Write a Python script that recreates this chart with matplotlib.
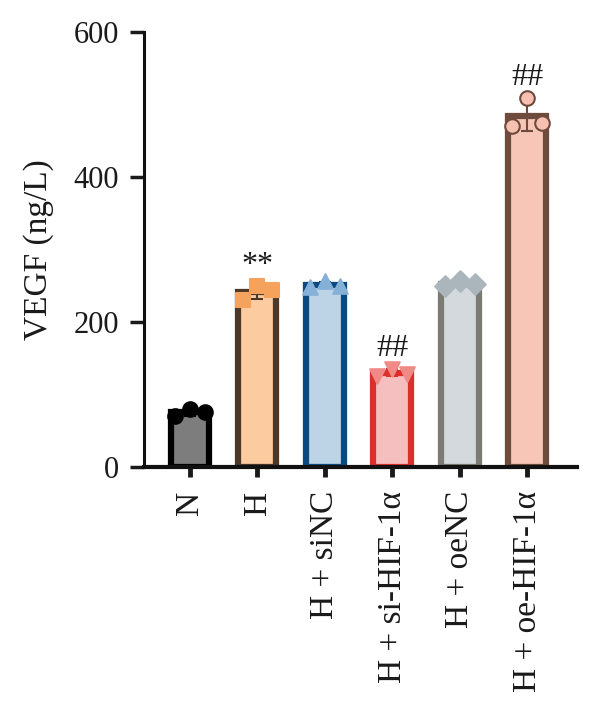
import matplotlib
matplotlib.use("Agg")
import matplotlib.pyplot as plt
import numpy as np

categories = ["N", "H", "H + siNC", "H + si-HIF-1\u03b1", "H + oeNC", "H + oe-HIF-1\u03b1"]
points = [
    [70, 80, 76],
    [230, 250, 244],
    [248, 256, 250],
    [126, 135, 128],
    [250, 256, 252],
    [470, 509, 474],
]
point_offsets = [-0.22, 0.0, 0.22]
significance = ["", "**", "", "##", "", "##"]
yticks = [0, 200, 400, 600]

face_colors = ["#7d7d7d", "#fdcba0", "#bdd4e7", "#f6bfbf", "#d4d9dd", "#f8c6b6"]
edge_colors = ["#000000", "#4b3829", "#0b4a7e", "#d9302e", "#7b7b73", "#6e4b3d"]
marker_face = ["#000000", "#f4a25c", "#85b0d8", "#f08a86", "#aab6bc", "#f8c0b0"]
marker_edge = ["#000000", "#f4a25c", "#85b0d8", "#f08a86", "#aab6bc", "#6e4b3d"]
markers = ["o", "s", "^", "v", "D", "o"]

plt.rcParams['font.family'] = ['Liberation Serif', 'DejaVu Serif']

fig = plt.figure(figsize=(6, 7.25), dpi=100)
ax = fig.add_axes([0.24, 0.356, 0.722, 0.6])

x = np.arange(len(categories))
means = [np.mean(p) for p in points]
sds = [np.std(p, ddof=1) for p in points]

for i in range(len(categories)):
    ax.bar(x[i], means[i], width=0.56, color=face_colors[i], edgecolor=edge_colors[i],
           linewidth=4.5, zorder=2)
    ax.errorbar(x[i], means[i], yerr=sds[i], color=edge_colors[i], capsize=4,
                elinewidth=1.5, capthick=1.5, zorder=3)
    ax.scatter(x[i] + np.array(point_offsets), points[i], marker=markers[i], s=110,
               color=marker_face[i], edgecolors=marker_edge[i], linewidths=1.5, zorder=4)
    if significance[i]:
        top = max(points[i]) + 8
        ax.text(x[i], top, significance[i], ha="center", va="bottom", fontsize=23, color="#1a1a1a")

ax.set_xlim(-0.68, 5.74)
ax.set_ylim(0, 600)
ax.set_yticks(yticks)
ax.set_xticks(x)
ax.set_xticklabels(categories, rotation=90, fontsize=24, color="#1a1a1a")
ax.tick_params(axis="y", labelsize=22, length=10, width=2.5, colors="#1a1a1a", pad=8)
ax.tick_params(axis="x", length=7, width=3.5, colors="#1a1a1a", pad=10)
ax.set_ylabel("VEGF (ng/L)", fontsize=24, color="#1a1a1a", labelpad=14)

for s in ["top", "right"]:
    ax.spines[s].set_visible(False)
ax.spines["left"].set_linewidth(2.2)
ax.spines["bottom"].set_linewidth(3)
ax.spines["left"].set_color("#111111")
ax.spines["bottom"].set_color("#111111")

fig.savefig("out.png", dpi=100)
